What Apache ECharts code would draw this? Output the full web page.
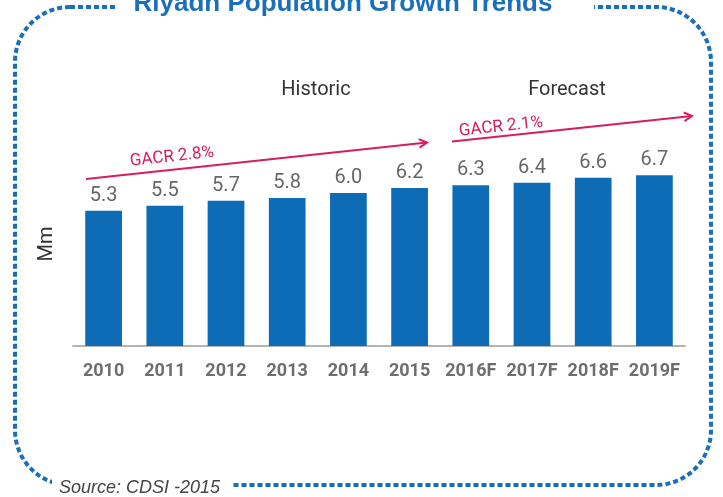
<!DOCTYPE html>
<html>
<head>
<meta charset="utf-8">
<script src="https://cdn.jsdelivr.net/npm/echarts@6/dist/echarts.min.js"></script>
<style>
  html, body { margin: 0; padding: 0; background: #fff; }
  #chart { width: 723px; height: 497px; }
</style>
</head>
<body>
<div id="chart"></div>
<script>
// Riyadh population, millions
const years = ['2010', '2011', '2012', '2013', '2014', '2015', '2016F', '2017F', '2018F', '2019F'];
const population = [5.3, 5.5, 5.7, 5.8, 6.0, 6.2, 6.3, 6.4, 6.6, 6.7];
const growthLabels = ['GACR 2.8%', 'GACR 2.1%'];
const periodLabels = ['Historic', 'Forecast'];

const BLUE = '#0d6cb5';
const PINK = '#d81e5a';
const FONT = 'Roboto, Arial, sans-serif';

const chart = echarts.init(document.getElementById('chart'), null, { renderer: 'canvas' });

// Arrow drawn as a line with an open head
function arrow(x1, y1, x2, y2) {
  const ang = Math.atan2(y2 - y1, x2 - x1);
  const h = 9, spread = 0.5;
  const hx1 = x2 - h * Math.cos(ang - spread), hy1 = y2 - h * Math.sin(ang - spread);
  const hx2 = x2 - h * Math.cos(ang + spread), hy2 = y2 - h * Math.sin(ang + spread);
  return [
    { type: 'line', shape: { x1, y1, x2, y2 }, style: { stroke: PINK, lineWidth: 2 }, z: 10 },
    { type: 'polyline', shape: { points: [[hx1, hy1], [x2, y2], [hx2, hy2]] }, style: { stroke: PINK, lineWidth: 2, fill: null }, z: 10 }
  ];
}

const tilt = 6.1 * Math.PI / 180;

function label(text, x, y, font, fill, rotation) {
  return {
    type: 'text', x, y, rotation: rotation || 0,
    style: { text, fill, font, align: 'center', verticalAlign: 'middle' },
    z: 10
  };
}

chart.setOption({
  animation: false,
  grid: { left: 73, right: 38, top: 91, bottom: 151 },
  xAxis: {
    type: 'category',
    data: years,
    axisLine: { lineStyle: { color: '#b3b3b3', width: 2 } },
    axisTick: { length: 6, lineStyle: { color: '#b3b3b3', width: 2 } },
    axisLabel: {
      interval: 0,
      margin: 16,
      fontFamily: FONT,
      fontWeight: 'bold',
      fontSize: 18,
      color: '#6e6e6e'
    }
  },
  yAxis: {
    type: 'value',
    min: 0,
    max: 10,
    show: false
  },
  series: [{
    type: 'bar',
    data: population,
    barWidth: '60%',
    itemStyle: { color: BLUE },
    label: {
      show: true,
      position: 'top',
      distance: 5,
      fontFamily: FONT,
      fontSize: 20,
      color: '#666',
      formatter: p => p.value.toFixed(1)
    }
  }],
  graphic: [
    // dashed rounded frame
    {
      type: 'rect',
      shape: { x: 15, y: 7, width: 696, height: 478, r: 55 },
      style: { fill: null, stroke: '#1a6fbb', lineWidth: 4, lineDash: [5, 3] },
      z: 1
    },
    // openings in the frame for the title and the source line
    { type: 'rect', shape: { x: 118, y: 0, width: 476, height: 20 }, style: { fill: '#fff' }, z: 2 },
    { type: 'rect', shape: { x: 52, y: 474, width: 179, height: 23 }, style: { fill: '#fff' }, z: 2 },
    {
      type: 'text', x: 343, y: 17,
      style: { text: 'Riyadh Population Growth Trends', fill: '#1a6fbb', font: 'bold 26px "Liberation Sans", Arial, sans-serif', align: 'center', verticalAlign: 'bottom' },
      z: 3
    },
    {
      type: 'text', x: 59, y: 488,
      style: { text: 'Source: CDSI -2015', fill: '#444', font: 'italic 18px "Liberation Sans", Arial, sans-serif', verticalAlign: 'middle' },
      z: 3
    },
    label('Mm', 47, 244, '20px ' + FONT, '#333', Math.PI / 2),
    label(periodLabels[0], 316, 90, '20px ' + FONT, '#333'),
    label(periodLabels[1], 567, 90, '20px ' + FONT, '#333'),
    ...arrow(86, 179, 427, 142.5),
    ...arrow(452, 141.5, 692, 116),
    label(growthLabels[0], 172, 157, '17px ' + FONT, PINK, tilt),
    label(growthLabels[1], 501, 127, '17px ' + FONT, PINK, tilt)
  ]
});
</script>
</body>
</html>
